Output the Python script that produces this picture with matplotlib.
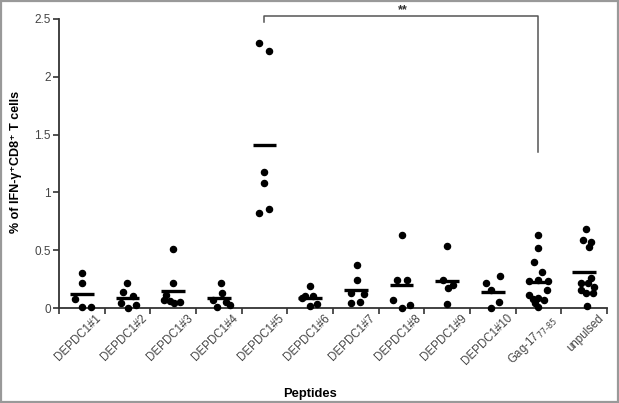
import matplotlib
matplotlib.use("Agg")
import matplotlib.pyplot as plt
from matplotlib.patches import Rectangle
import matplotlib.transforms as mtransforms

plt.rcParams['font.family'] = ['Liberation Sans', 'DejaVu Sans']

# peptide groups and the measured % of IFN-g+ CD8+ cells per well
peptides = ['DEPDC1#1', 'DEPDC1#2', 'DEPDC1#3', 'DEPDC1#4', 'DEPDC1#5',
            'DEPDC1#6', 'DEPDC1#7', 'DEPDC1#8', 'DEPDC1#9', 'DEPDC1#10',
            'Gag-17$_{77\u201085}$', 'unpulsed']

vals_1 = [0.30, 0.22, 0.08, 0.01, 0.01]
vals_2 = [0.22, 0.14, 0.04, 0.00, 0.03, 0.10]
vals_3 = [0.51, 0.22, 0.11, 0.06, 0.04, 0.05, 0.07]
vals_4 = [0.22, 0.13, 0.07, 0.01, 0.05, 0.03]
vals_5 = [2.29, 2.22, 1.18, 1.08, 0.82, 0.86]
vals_6 = [0.19, 0.10, 0.09, 0.10, 0.02, 0.035]
vals_7 = [0.37, 0.24, 0.13, 0.12, 0.04, 0.05]
vals_8 = [0.63, 0.24, 0.24, 0.07, 0.00, 0.03]
vals_9 = [0.54, 0.24, 0.17, 0.20, 0.035]
vals_10 = [0.22, 0.28, 0.16, 0.05, 0.00]
vals_gag = [0.63, 0.52, 0.40, 0.31, 0.23, 0.24, 0.23, 0.16, 0.11, 0.08,
            0.09, 0.07, 0.04, 0.01]
vals_unpulsed = [0.68, 0.59, 0.57, 0.53, 0.26, 0.22, 0.22, 0.18, 0.16,
                 0.13, 0.13, 0.02]

groups = [vals_1, vals_2, vals_3, vals_4, vals_5, vals_6, vals_7, vals_8,
          vals_9, vals_10, vals_gag, vals_unpulsed]

# horizontal scatter of dots inside each column
jitter = [
    [0, 0, -0.16, 0, 0.19],
    [0, -0.09, -0.15, 0.02, 0.18, 0.11],
    [0, 0, -0.15, -0.08, 0.02, 0.15, -0.21],
    [0.04, 0.07, -0.12, -0.03, 0.15, 0.24],
    [-0.11, 0.09, 0, 0, -0.11, 0.09],
    [0, -0.11, -0.18, 0.07, 0, 0.15],
    [0.02, 0.02, -0.1, 0.18, -0.1, 0.09],
    [0.02, -0.09, 0.11, -0.18, 0.02, 0.18],
    [0, -0.09, 0.02, 0.13, 0],
    [-0.15, 0.15, -0.04, 0.13, -0.04],
    [0, 0, -0.09, 0.07, -0.2, 0, 0.2, 0.18, -0.2, -0.11, 0, 0.11, -0.07, 0],
    [0.04, -0.02, 0.15, 0.11, 0.15, 0.09, -0.07, 0.22, -0.07, 0.04, 0.2, 0.07],
]

fig = plt.figure(figsize=(6.19, 4.03), dpi=100)
ax = fig.add_axes([0.0953, 0.2357, 0.8853, 0.7172])

for i, (vals, dx) in enumerate(zip(groups, jitter)):
    x = i + 1
    ax.plot([x + d for d in dx], vals, 'o', color='black', ms=4.4,
            mec='black', clip_on=False, zorder=3)
    m = sum(vals) / len(vals)
    ax.plot([x - 0.26, x + 0.26], [m, m], color='black', lw=2.4,
            solid_capstyle='butt', zorder=2)

ax.set_xlim(0.5, 12.5)
ax.set_ylim(0, 2.5)
ax.set_yticks([0, 0.5, 1, 1.5, 2, 2.5])
ax.set_yticklabels(['0', '0.5', '1', '1.5', '2', '2.5'])

# category ticks sit between the columns, labels at the centres
ax.set_xticks([i + 1 for i in range(len(peptides))])
ax.set_xticks([i + 0.5 for i in range(len(peptides) + 1)], minor=True)
ax.tick_params(axis='x', which='major', length=0, pad=3)
ax.tick_params(axis='x', which='minor', length=4, width=1.2, color='#333333',
               direction='out')
ax.tick_params(axis='y', length=4, width=1.2, color='#333333', direction='out',
               labelsize=8.5, labelcolor='#444444', pad=2)

offset = mtransforms.ScaledTranslation(22 / 100, 0, fig.dpi_scale_trans)
ax.set_xticklabels(peptides, rotation=45, ha='right', va='top',
                   fontsize=8.3, color='#444444')
for lab in ax.get_xticklabels():
    lab.set_transform(lab.get_transform() + offset)

for side in ['top', 'right']:
    ax.spines[side].set_visible(False)
for side in ['left', 'bottom']:
    ax.spines[side].set_linewidth(1.3)
    ax.spines[side].set_color('#333333')

ax.set_ylabel('% of IFN-\u03b3\u207aCD8\u207a T cells', fontsize=9,
              fontweight='bold')
ax.set_xlabel('Peptides', fontsize=9.3, fontweight='bold')
ax.xaxis.set_label_coords(0.458, -0.277)
ax.yaxis.set_label_coords(-0.068, 0.505)

# significance bracket between DEPDC1#5 and Gag-17
ax.plot([5, 5, 11, 11], [2.47, 2.53, 2.53, 1.35], color='#555555', lw=1.1,
        clip_on=False, zorder=1)
ax.text(8.03, 2.58, '**', ha='center', va='center', fontsize=9,
        fontweight='bold', color='#333333')

fig.patches.append(Rectangle((0.002, 0.003), 0.996, 0.994,
                             transform=fig.transFigure, fill=False,
                             edgecolor='#999999', lw=1.6))

fig.savefig('out.png', dpi=100)
